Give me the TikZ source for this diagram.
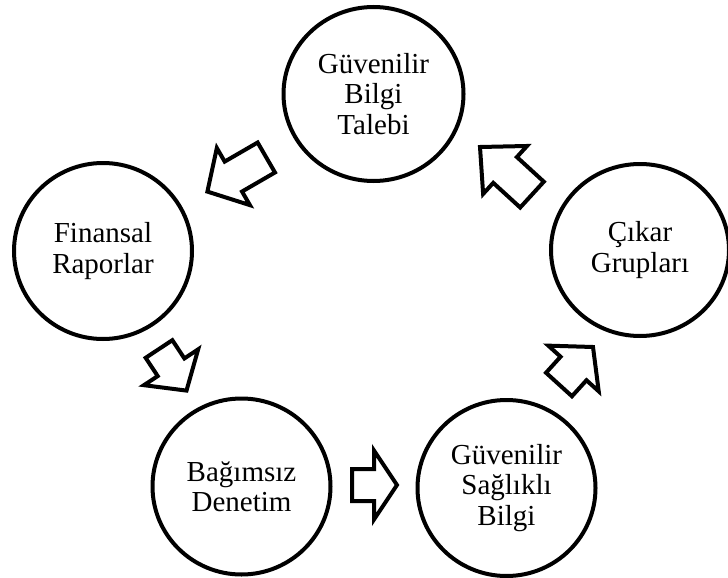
\documentclass[tikz,border=0pt]{standalone}
\usepackage{fontspec}
\setmainfont{Liberation Serif}
\usetikzlibrary{shapes.geometric,calc}

% Outlined block arrow from #2 (tail) to #3 (tip):
% #4 half shaft width, #5 half head width, #6 head length
\newcommand\blockarrow[6]{%
  \coordinate (#1-hb) at ($(#3)!#6!(#2)$);
  \draw[blockarrow]
    ($(#2)!#4!90:(#3)$) -- ($(#1-hb)!#4!90:(#3)$) -- ($(#1-hb)!#5!90:(#3)$)
    -- (#3)
    -- ($(#1-hb)!#5!-90:(#3)$) -- ($(#1-hb)!#4!-90:(#3)$) -- ($(#2)!#4!-90:(#3)$)
    -- cycle;}

\begin{document}
\begin{tikzpicture}[x=1pt,y=-1pt,
  bubble/.style={draw=black, line width=4pt, ellipse, minimum width=178pt,
    minimum height=176pt, inner sep=0pt, align=center,
    font=\fontsize{29}{30.5}\selectfont},
  blockarrow/.style={draw=black, line width=4pt, fill=white, line join=miter}]
\useasboundingbox (0,0) rectangle (728,578);

% stages of the cycle
\node[bubble, minimum width=180pt, minimum height=174pt] (demand) at (373.5,94) {Güvenilir\\Bilgi\\Talebi};
\node[bubble] (reports) at (103,251) {Finansal\\Raporlar};
\node[bubble] (audit) at (241.5,486.5) {Bağımsız\\Denetim};
\node[bubble] (info) at (506.5,488) {Güvenilir\\Sağlıklı\\Bilgi};
\node[bubble, minimum height=172pt] (groups) at (640,250) {Çıkar\\Grupları};

% arrow ends between neighbouring stages
\coordinate (a1-tail) at (266.3,157.5);
\coordinate (a1-tip)  at (207.4,191.6);
\coordinate (a2-tail) at (532,194.6);
\coordinate (a2-tip)  at (480,147);
\coordinate (a3-tail) at (159,349);
\coordinate (a3-tip)  at (186.5,390.6);
\coordinate (a4-tail) at (352,485);
\coordinate (a4-tip)  at (397,485);
\coordinate (a5-tail) at (559,384.5);
\coordinate (a5-tip)  at (593,347);

\blockarrow{a1}{a1-tail}{a1-tip}{17.3pt}{33pt}{30pt}
\blockarrow{a2}{a2-tail}{a2-tip}{17.5pt}{32.5pt}{34pt}
\blockarrow{a3}{a3-tail}{a3-tip}{16pt}{32.5pt}{28pt}
\blockarrow{a4}{a4-tail}{a4-tip}{16pt}{34.5pt}{23pt}
\blockarrow{a5}{a5-tail}{a5-tip}{17.5pt}{34pt}{29pt}
\end{tikzpicture}
\end{document}
